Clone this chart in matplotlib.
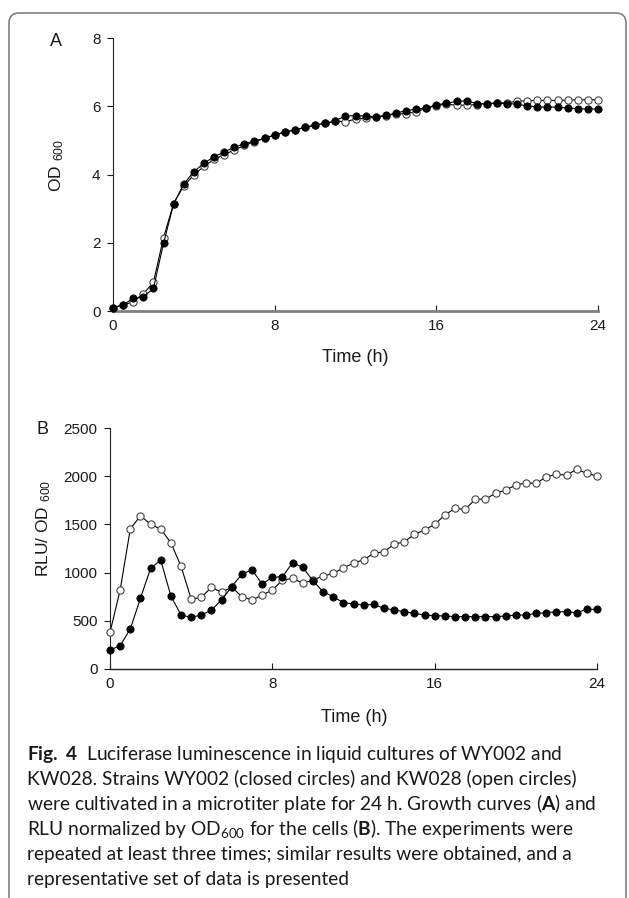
import matplotlib
matplotlib.use("Agg")
import matplotlib.pyplot as plt
from matplotlib.patches import FancyBboxPatch

W, H = 629, 898

hours = [0, 0.5, 1, 1.5, 2, 2.5, 3, 3.5, 4, 4.5, 5, 5.5, 6, 6.5, 7, 7.5,
         8, 8.5, 9, 9.5, 10, 10.5, 11, 11.5, 12, 12.5, 13, 13.5, 14, 14.5,
         15, 15.5, 16, 16.5, 17, 17.5, 18, 18.5, 19, 19.5, 20, 20.5, 21,
         21.5, 22, 22.5, 23, 23.5, 24]

# panel A: OD600, closed circles = WY002, open circles = KW028
od_wy002 = [0.10, 0.18, 0.37, 0.42, 0.66, 1.98, 3.14, 3.72, 4.08, 4.33,
            4.52, 4.66, 4.80, 4.90, 4.98, 5.06, 5.16, 5.25, 5.31, 5.38,
            5.44, 5.50, 5.57, 5.72, 5.72, 5.72, 5.69, 5.73, 5.80, 5.87,
            5.92, 5.95, 6.04, 6.09, 6.14, 6.16, 6.08, 6.08, 6.09, 6.08,
            6.06, 6.01, 5.98, 5.98, 5.97, 5.95, 5.93, 5.92, 5.92]
od_kw028 = [0.10, 0.17, 0.27, 0.50, 0.84, 2.15, 3.15, 3.67, 3.98, 4.24,
            4.44, 4.58, 4.72, 4.85, 4.96, 5.06, 5.15, 5.24, 5.30, 5.38,
            5.45, 5.50, 5.56, 5.55, 5.62, 5.65, 5.68, 5.72, 5.78, 5.78,
            5.84, 5.94, 6.02, 6.06, 6.03, 6.03, 6.05, 6.08, 6.09, 6.10,
            6.15, 6.16, 6.17, 6.17, 6.17, 6.18, 6.19, 6.19, 6.19]

# panel B: RLU / OD600
rlu_wy002 = [197, 242, 415, 733, 1044, 1130, 757, 560, 536, 560,
             612, 716, 854, 985, 1027, 881, 951, 958, 1103, 1054,
             916, 802, 750, 688, 675, 664, 671, 629, 612, 594,
             577, 560, 553, 550, 543, 543, 543, 543, 543, 550,
             560, 560, 577, 584, 594, 594, 584, 619, 619]
rlu_kw028 = [380, 819, 1452, 1590, 1500, 1452, 1310, 1066, 726, 743,
             847, 795, 850, 750, 716, 767, 819, 923, 940, 889,
             923, 964, 992, 1048, 1100, 1133, 1200, 1217, 1293, 1320,
             1397, 1441, 1500, 1597, 1666, 1656, 1760, 1763, 1822, 1856,
             1908, 1932, 1925, 1994, 2019, 2012, 2071, 2029, 2001]

time_ticks = [0, 8, 16, 24]
od_ticks = [0, 2, 4, 6, 8]
rlu_ticks = [0, 500, 1000, 1500, 2000, 2500]

caption = [
    r"$\mathbf{Fig.\ 4}$  Luciferase luminescence in liquid cultures of WY002 and",
    "KW028. Strains WY002 (closed circles) and KW028 (open circles)",
    r"were cultivated in a microtiter plate for 24 h. Growth curves ($\mathbf{A}$) and",
    r"RLU normalized by OD$_{\mathrm{600}}$ for the cells ($\mathbf{B}$). The experiments were",
    "repeated at least three times; similar results were obtained, and a",
    "representative set of data is presented",
]

INK = "#1a1a1a"

plt.rcParams.update({
    "font.family": "Liberation Sans",
    "font.size": 11,
    "text.color": INK,
    "xtick.color": INK,
    "ytick.color": INK,
    "mathtext.fontset": "custom",
    "mathtext.rm": "Lato",
    "mathtext.it": "Lato:italic",
    "mathtext.bf": "Lato:bold",
    "mathtext.sf": "Liberation Sans",
})


def px(x, y):
    return x / W, 1 - y / H


def rect(left, top, right, bottom):
    return [left / W, 1 - bottom / H, (right - left) / W, (bottom - top) / H]


def style(ax, ymax, yticks, bottom_color, bottom_lw):
    ax.set_xlim(0, 24)
    ax.set_ylim(0, ymax)
    ax.set_xticks(time_ticks)
    ax.set_yticks(yticks)
    for s in ("top", "right"):
        ax.spines[s].set_visible(False)
    ax.spines["left"].set_color("#222222")
    ax.spines["left"].set_linewidth(0.8)
    ax.spines["bottom"].set_color(bottom_color)
    ax.spines["bottom"].set_linewidth(bottom_lw)
    ax.tick_params(axis="x", direction="in", length=4, width=0.8, pad=6,
                   labelsize=11)
    ax.tick_params(axis="y", direction="out", length=4, width=0.8, pad=5,
                   labelsize=11)
    ax.patch.set_visible(False)


def curves(ax, closed, opened):
    ax.plot(hours, opened, "-o", color="black", lw=0.8, ms=5.2,
            mfc="white", mec="#444444", mew=0.8, clip_on=False, zorder=3)
    ax.plot(hours, closed, "-o", color="black", lw=0.8, ms=5.2,
            mfc="black", mec="black", mew=0.6, clip_on=False, zorder=4)


fig = plt.figure(figsize=(W / 100, H / 100), dpi=100)

frame = FancyBboxPatch((0.09, -0.4), 6.17, 8.85 + 0.4,
                       boxstyle="round,pad=0,rounding_size=0.1",
                       transform=fig.dpi_scale_trans, fill=False,
                       edgecolor="#808080", linewidth=1.2)
fig.add_artist(frame)

axA = fig.add_axes(rect(113, 38, 598, 311))
curves(axA, od_wy002, od_kw028)
style(axA, 8, od_ticks, "#808080", 2.0)

axB = fig.add_axes(rect(110, 428, 597, 669))
curves(axB, rlu_wy002, rlu_kw028)
style(axB, 2500, rlu_ticks, "#222222", 1.0)

fig.text(*px(56, 42), "A", fontsize=13, ha="center", va="center")
fig.text(*px(43, 430), "B", fontsize=13, ha="center", va="center")
fig.text(*px(57, 166), r"OD $_{\mathsf{600}}$", fontsize=12.5, rotation=90,
         ha="center", va="center")
fig.text(*px(44, 528), r"RLU/ OD $_{\mathsf{600}}$", fontsize=12.5,
         rotation=90, ha="center", va="center")
fig.text(*px(355, 358), "Time (h)", fontsize=13, ha="center", va="center")
fig.text(*px(354, 718), "Time (h)", fontsize=13, ha="center", va="center")

for i, line in enumerate(caption):
    fig.text(*px(27, 760 + 25 * i), line, fontsize=13.8, family="Lato",
             ha="left", va="baseline")

fig.savefig("out.png", dpi=100)
